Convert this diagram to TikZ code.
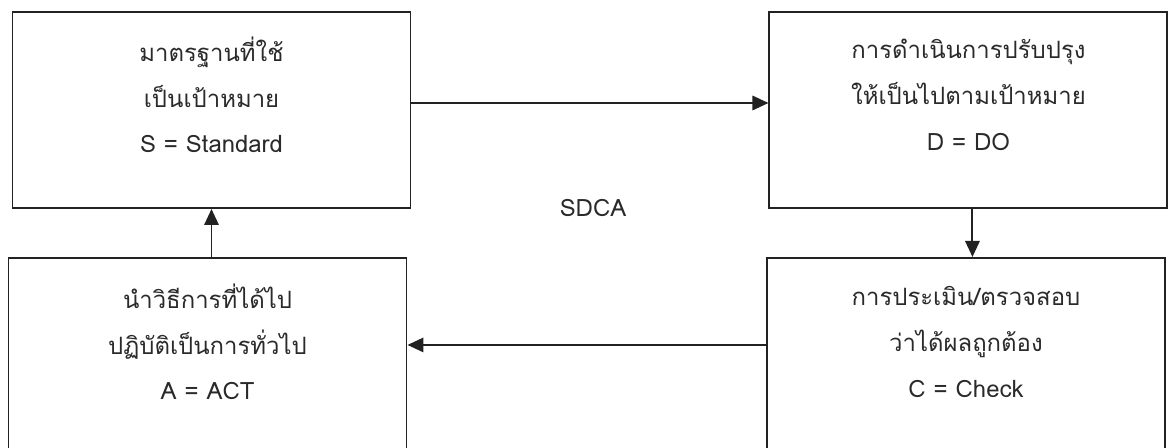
\documentclass[tikz,border=0pt]{standalone}
\usepackage{fontspec}
\newfontfamily\thaifont[Script=Thai]{Loma}
\usetikzlibrary{arrows.meta, positioning}
\definecolor{boxline}{HTML}{222222}
\definecolor{textgray}{HTML}{2A2A2A}

\begin{document}
\begin{tikzpicture}[
      stagebox/.style={draw=boxline, line width=1.4pt, minimum width=9.95cm,
        minimum height=4.9cm, inner sep=0pt},
      stagetext/.style={align=center, text=textgray,
        font=\thaifont\fontsize{17}{32.5}\selectfont},
      >={Triangle[length=0.4cm, width=0.36cm]}
    ]
      \clip (0,0) rectangle (29.225,11.2);
      \node[stagebox] (sbox) at (5.2875,8.45) {};
      \node[stagebox, right=8.925cm of sbox] (dbox) {};
      \node[stagebox, below=1.2cm of dbox, xshift=-0.0625cm] (cbox) {};
      \node[stagebox, below=1.2cm of sbox, xshift=-0.1cm] (abox) {};
      \node[stagetext] (stext) at ([yshift=0.375cm]sbox.center)
        {มาตรฐานที่ใช้\\เป็นเป้าหมาย\\S = Standard};
      \node[stagetext] (dtext) at ([yshift=0.375cm]dbox.center)
        {การดำเนินการปรับปรุง\\ให้เป็นไปตามเป้าหมาย\\D = DO};
      \node[stagetext] (ctext) at ([yshift=0.35cm]cbox.center)
        {การประเมิน/ตรวจสอบ\\ว่าได้ผลถูกต้อง\\C = Check};
      \node[stagetext] (atext) at ([yshift=0.35cm]abox.center)
        {นำวิธีการที่ได้ไป\\ปฏิบัติเป็นการทั่วไป\\A = ACT};
      \node[stagetext] (cycle) at (14.825,6.0) {SDCA};
      \draw[->, draw=boxline, line width=1.4pt]
        ([yshift=0.175cm]sbox.east) -- ([yshift=0.175cm]dbox.west);
      \draw[->, draw=boxline, line width=1.4pt]
        ([xshift=0.1cm]dbox.south) -- ([xshift=0.1cm]dbox.south |- cbox.north);
      \draw[->, draw=boxline, line width=1.4pt]
        ([yshift=0.275cm]cbox.west) -- ([yshift=0.275cm]cbox.west -| abox.east);
      \draw[->, draw=boxline, line width=1.4pt]
        (sbox.south |- abox.north) -- (sbox.south);
    \end{tikzpicture}
\end{document}
